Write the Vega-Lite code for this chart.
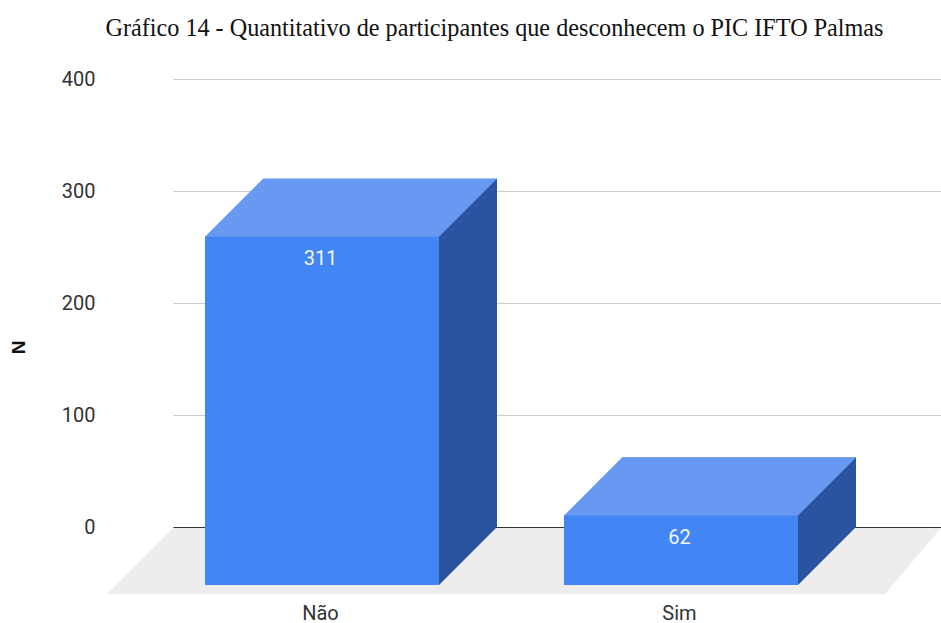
{
  "$schema": "https://vega.github.io/schema/vega-lite/v6.json",
  "width": 768,
  "height": 516,
  "autosize": "none",
  "padding": {"left": 173, "top": 79, "right": 0, "bottom": 28},
  "background": "white",
  "config": {"view": {"stroke": null}},
  "title": {
    "text": "Gráfico 14 - Quantitativo de participantes que desconhecem o PIC IFTO Palmas",
    "font": "Liberation Serif",
    "fontSize": 24.2,
    "fontWeight": "normal",
    "color": "#111111",
    "anchor": "middle",
    "dx": -62.5,
    "offset": 28
  },
  "data": {"values": [
    {"resposta": "Não", "N": 311},
    {"resposta": "Sim", "N": 62}
  ]},
  "encoding": {
    "x": {
      "field": "resposta",
      "type": "nominal",
      "sort": null,
      "title": null,
      "scale": {"domain": ["Não", "Sim"], "paddingInner": 0.34819, "paddingOuter": 0.24373, "align": 0.5143},
      "axis": {"domain": false, "ticks": false, "labelAngle": 0, "labelFont": "Roboto", "labelFontSize": 20, "labelColor": "#333333", "labelPadding": 8, "labelOffset": -59.5}
    }
  },
  "layer": [
    {
      "transform": [{"filter": "datum.resposta === 'Não'"}],
      "mark": {"type": "point", "shape": "M-207,1L561,1L505,67L-273,67Z", "size": 4, "filled": true, "fill": "#ededed", "opacity": 1, "strokeWidth": 0},
      "encoding": {
        "y": {
          "datum": 0,
          "type": "quantitative",
          "scale": {"domain": [-60.7, 400], "nice": false, "zero": false},
          "title": "N",
          "axis": {
            "values": [0, 100, 200, 300, 400],
            "domain": false,
            "ticks": false,
            "labelFont": "Roboto",
            "labelFontSize": 20,
            "labelColor": "#333333",
            "labelPadding": 78,
            "grid": true,
            "gridColor": {"condition": {"test": "datum.value === 0", "value": "#333333"}, "value": "#cccccc"},
            "titleFont": "Liberation Sans",
            "titleFontSize": 19,
            "titleFontWeight": "bold",
            "titleColor": "#111111",
            "titleX": -145,
            "titleY": 268,
            "titleAngle": -90
          }
        }
      }
    },
    {
      "mark": {"type": "bar", "fill": "#2a549f"},
      "encoding": {
        "y": {"field": "N", "type": "quantitative"},
        "y2": {"datum": 0}
      }
    },
    {
      "mark": {"type": "point", "shape": "M59,0L117,0L59,58Z", "size": 4, "filled": true, "fill": "#2a549f", "opacity": 1, "strokeWidth": 0},
      "encoding": {"y": {"datum": 0, "type": "quantitative"}}
    },
    {
      "mark": {"type": "point", "shape": "M-117,0L117,0L59,58L58,59L-175,59L-175,58Z", "size": 4, "filled": true, "fill": "#6799f3", "opacity": 1, "strokeWidth": 0},
      "encoding": {"y": {"field": "N", "type": "quantitative"}}
    },
    {
      "mark": {"type": "bar", "fill": "#4285f4", "xOffset": -58, "yOffset": 58, "y2Offset": 58},
      "encoding": {
        "y": {"field": "N", "type": "quantitative"},
        "y2": {"datum": 0}
      }
    },
    {
      "mark": {"type": "text", "font": "Roboto", "fontSize": 20, "fill": "#f4f7ff", "dx": -59.5, "dy": 80, "baseline": "middle", "align": "center"},
      "encoding": {
        "y": {"field": "N", "type": "quantitative"},
        "text": {"field": "N", "type": "quantitative"}
      }
    }
  ]
}
